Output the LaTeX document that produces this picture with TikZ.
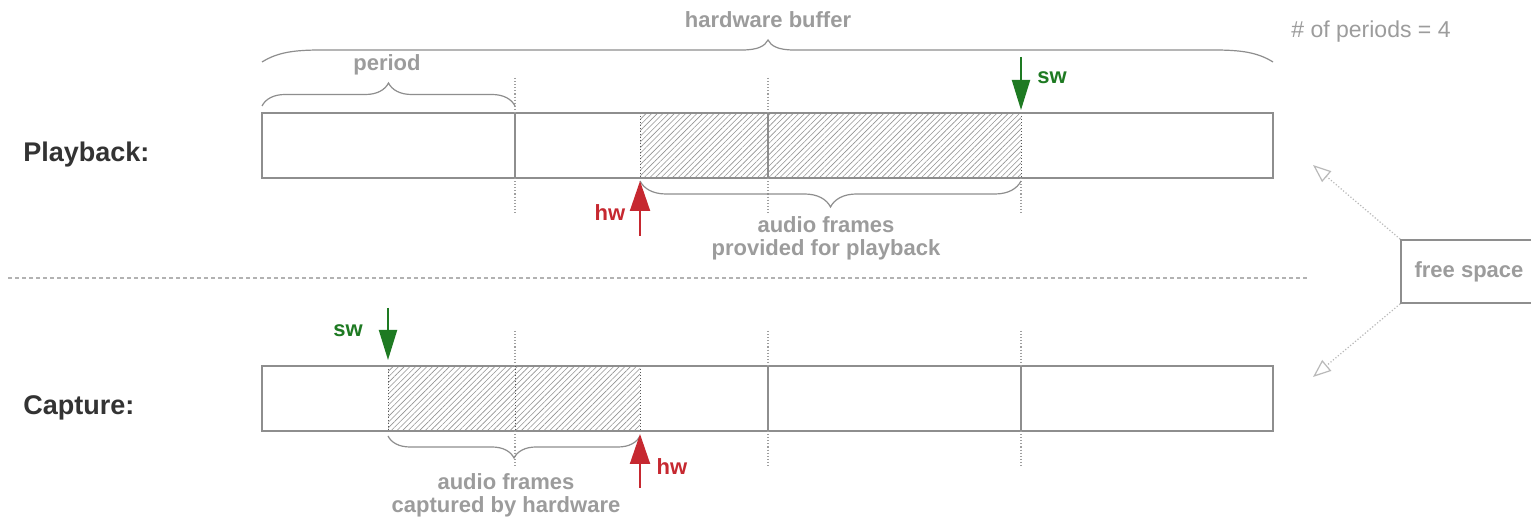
\documentclass[tikz,border=0pt]{standalone}
\usepackage{fontspec}
\setmainfont{Liberation Sans}
\usetikzlibrary{arrows.meta,decorations.pathreplacing,patterns.meta}
\definecolor{lbl}{HTML}{9C9C9C}
\definecolor{barline}{HTML}{8E8E8E}
\definecolor{swgreen}{HTML}{1E7A22}
\definecolor{hwred}{HTML}{C62830}
\definecolor{headcol}{HTML}{333333}

\begin{document}
\begin{tikzpicture}[x=0.5pt,y=-0.5pt,
  lbltext/.style={text=lbl,font=\bfseries\fontsize{11}{11.5}\selectfont,inner sep=0pt,align=center},
  heading/.style={text=headcol,font=\bfseries\fontsize{13.5}{14}\selectfont,inner sep=0pt,anchor=west},
  bar/.style={draw=barline,line width=0.9pt},
  divider/.style={draw=barline,line width=0.6pt},
  guide/.style={draw=gray!75,line width=0.55pt,densely dotted},
  filled/.style={pattern={Lines[angle=45,distance=2pt,line width=0.3pt]},pattern color=gray!85},
  fillborder/.style={draw=gray!70!black,line width=0.5pt,densely dotted},
  bracestroke/.style={draw=barline,line width=0.6pt},
  hbrace/.style={bracestroke,decorate,decoration={brace,amplitude=#1}},
  lbrace/.style={bracestroke,decorate,decoration={brace,mirror,amplitude=#1}},
  swarrow/.style={draw=swgreen,line width=1pt,-{Triangle[length=15pt,width=9pt]}},
  hwarrow/.style={draw=hwred,line width=1pt,-{Triangle[length=15pt,width=10pt]}},
  swtext/.style={text=swgreen,font=\bfseries\fontsize{11}{11}\selectfont,inner sep=0pt},
  hwtext/.style={text=hwred,font=\bfseries\fontsize{11}{11}\selectfont,inner sep=0pt},
  freearrow/.style={draw=gray!55,line width=0.6pt,densely dotted,-{Triangle[open,length=9pt,width=7pt]}},
  separator/.style={draw=gray!60,line width=0.6pt,dash pattern=on 2pt off 1.5pt}
]
\useasboundingbox (0,0) rectangle (1531,522);
\fill[white] (0,0) rectangle (1531,522);

% ---------- playback buffer ----------
\fill[filled] (640,113) rectangle (1021,178);
\draw[fillborder] (640,113) rectangle (1021,178);
\draw[bar] (262,113) rectangle (1273,178);
\draw[divider] (515,113) -- (515,178);
\draw[divider] (768,113) -- (768,178);
\draw[guide] (515,78) -- (515,113) (515,178) -- (515,215);
\draw[guide] (768,78) -- (768,113) (768,178) -- (768,215);
\draw[guide] (1021,178) -- (1021,215);

% whole-buffer brace with long, soft ends
\draw[bracestroke] (262,62) .. controls (278,52) and (295,50) .. (322,50)
  -- (742,50) .. controls (758,50) and (765,46) .. (768,40)
  .. controls (771,46) and (778,50) .. (794,50)
  -- (1213,50) .. controls (1240,50) and (1257,52) .. (1273,62);
\draw[hbrace=11.5pt] (262,106) -- (515,106);
\draw[lbrace=13pt] (640,181) -- (1021,181);

\node[lbltext] (hwbuf) at (768,20) {hardware buffer};
\node[lbltext] (per) at (387,65) {period};
\node[lbltext,font=\fontsize{11.5}{12}\selectfont] (nper) at (1371,32) {\# of periods = 4};
\node[heading] (pbk) at (23,155) {Playback:};
\node[lbltext] (pbtext) at (826,238) {audio frames\\provided for playback};

\coordinate (pbsw-tail) at (1021,57);
\coordinate (pbsw-tip) at (1021,110);
\draw[swarrow] (pbsw-tail) -- (pbsw-tip);
\node[swtext] (pbswl) at (1052,78) {sw};
\coordinate (pbhw-tail) at (640,236);
\coordinate (pbhw-tip) at (640,181);
\draw[hwarrow] (pbhw-tail) -- (pbhw-tip);
\node[hwtext] (pbhwl) at (610,213) {hw};

% ---------- separator ----------
\coordinate (sep-l) at (8,278);
\coordinate (sep-r) at (1310,278);
\draw[separator] (sep-l) -- (sep-r);

% ---------- free space ----------
\node[draw=barline,line width=0.9pt,lbltext,minimum width=70pt,minimum height=31.5pt] (free) at (1471,271.5) {free space\hspace*{2pt}};
\coordinate (free-up) at (1313,165);
\coordinate (free-down) at (1313,377);
\draw[freearrow] (free.north west) -- (free-up);
\draw[freearrow] (free.south west) -- (free-down);

% ---------- capture buffer ----------
\fill[filled] (388,366) rectangle (640,431);
\draw[fillborder] (388,366) rectangle (640,431);
\draw[bar] (262,366) rectangle (1273,431);
\draw[fillborder] (515,366) -- (515,431);
\draw[divider] (768,366) -- (768,431);
\draw[divider] (1021,366) -- (1021,431);
\draw[guide] (515,331) -- (515,366) (515,431) -- (515,468);
\draw[guide] (768,331) -- (768,366) (768,431) -- (768,468);
\draw[guide] (1021,331) -- (1021,366) (1021,431) -- (1021,468);

\draw[lbrace=11pt] (388,436) -- (640,436);

\node[heading] (capt) at (23,408) {Capture:};
\node[lbltext] (captext) at (506,495) {audio frames\\captured by hardware};

\coordinate (capsw-tail) at (388,308);
\coordinate (capsw-tip) at (388,360);
\draw[swarrow] (capsw-tail) -- (capsw-tip);
\node[swtext] (capswl) at (348,331) {sw};
\coordinate (caphw-tail) at (640,488);
\coordinate (caphw-tip) at (640,434);
\draw[hwarrow] (caphw-tail) -- (caphw-tip);
\node[hwtext] (caphwl) at (672,467) {hw};
\end{tikzpicture}
\end{document}
